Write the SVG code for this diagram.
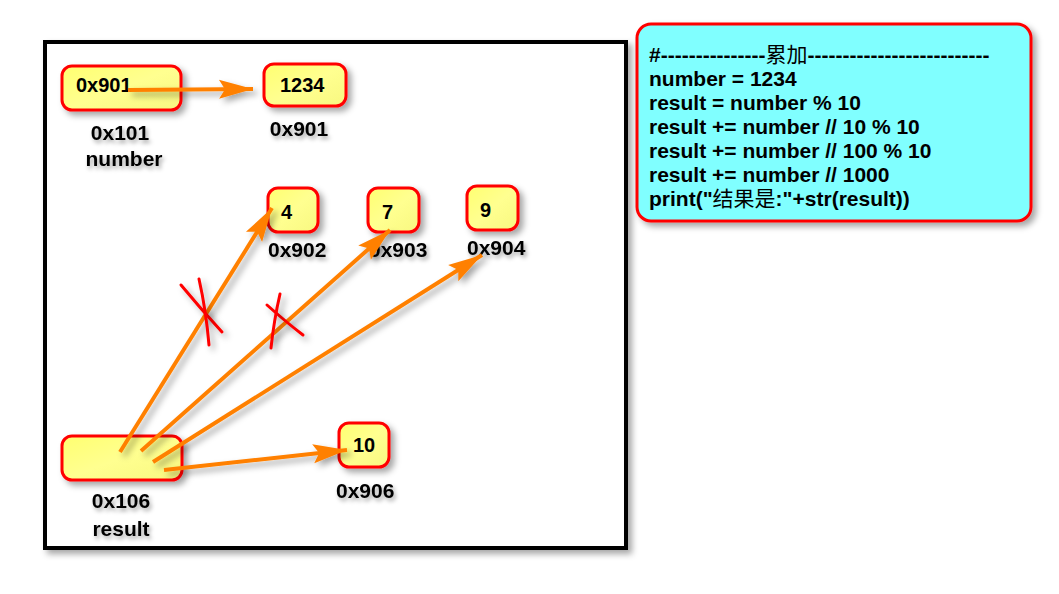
<svg xmlns="http://www.w3.org/2000/svg" width="1059" height="594" viewBox="0 0 1059 594">
<defs>
<filter id="sh" x="-20%" y="-20%" width="150%" height="150%">
<feDropShadow dx="4" dy="4" stdDeviation="3" flood-color="#000" flood-opacity="0.35"/>
</filter>
<filter id="ash" filterUnits="userSpaceOnUse" x="0" y="0" width="1059" height="594">
<feDropShadow dx="4" dy="4" stdDeviation="3" flood-color="#000" flood-opacity="0.35"/>
</filter>
<filter id="tsh" x="-20%" y="-30%" width="150%" height="170%">
<feDropShadow dx="2" dy="3" stdDeviation="2" flood-color="#000" flood-opacity="0.35"/>
</filter>
<linearGradient id="yg" x1="0" y1="0" x2="1" y2="1">
<stop offset="0" stop-color="#ffff70"/>
<stop offset="0.5" stop-color="#ffff90"/>
<stop offset="1" stop-color="#f8f880"/>
</linearGradient>
<marker id="ah" markerUnits="userSpaceOnUse" markerWidth="40" markerHeight="24" viewBox="-36 -12 40 24" refX="0" refY="0" orient="auto">
<path d="M0,0 L-34,-9.5 L-28,0 L-34,9.5 Z" fill="#ff8000"/>
</marker>
</defs>
<style>
.node{fill:url(#yg);stroke:#ff0000;stroke-width:3;filter:url(#sh)}
.t{font-family:"Liberation Sans",Arial,sans-serif;font-weight:bold;fill:#000}
.nt{font-size:20px}
.lb{font-size:21px;filter:url(#tsh)}
.code{font-size:21px}
.cjk{font-family:"Noto Sans CJK SC",sans-serif;font-weight:normal}
.arr{stroke:#ff8000;stroke-width:4;fill:none;marker-end:url(#ah);filter:url(#ash)}
.x{stroke:#ff0000;stroke-width:3;fill:none;stroke-linecap:round;filter:url(#ash)}
</style>
<rect width="1059" height="594" fill="#ffffff"/>
<g id="frame">
<rect x="45" y="42" width="581" height="506" fill="#ffffff" stroke="#000" stroke-width="4" filter="url(#sh)"/>
</g>
<g id="code">
<rect x="637" y="24" width="394" height="197" rx="14" fill="#80ffff" stroke="#ff0000" stroke-width="3" filter="url(#sh)"/>
<text class="t code" x="649" y="62">#---------------<tspan class="cjk">累加</tspan>--------------------------</text>
<text class="t code" x="649" y="86">number = 1234</text>
<text class="t code" x="649" y="110">result = number % 10</text>
<text class="t code" x="649" y="134">result += number // 10 % 10</text>
<text class="t code" x="649" y="158">result += number // 100 % 10</text>
<text class="t code" x="649" y="182">result += number // 1000</text>
<text class="t code" x="649" y="206">print("<tspan class="cjk">结果是</tspan>:"+str(result))</text>
</g>
<g id="number">
<rect class="node" x="62" y="66" width="119" height="44" rx="10"/>
<text class="t nt" x="76" y="92">0x901</text>
<text class="t lb" x="120" y="140" text-anchor="middle">0x101</text>
<text class="t lb" x="124" y="166" text-anchor="middle">number</text>
</g>
<g id="v1234">
<rect class="node" x="264" y="64" width="82" height="42" rx="10"/>
<text class="t nt" x="280" y="92">1234</text>
<text class="t lb" x="299" y="136" text-anchor="middle">0x901</text>
</g>
<g id="v4">
<rect class="node" x="268" y="188" width="50" height="44" rx="10"/>
<text class="t nt" x="281" y="219">4</text>
<text class="t lb" x="268" y="257">0x902</text>
</g>
<g id="v7">
<rect class="node" x="368" y="188" width="51" height="44" rx="10"/>
<text class="t nt" x="382" y="219">7</text>
<text class="t lb" x="369" y="257">0x903</text>
</g>
<g id="v9">
<rect class="node" x="467" y="186" width="51" height="44" rx="10"/>
<text class="t nt" x="480" y="217">9</text>
<text class="t lb" x="467" y="255">0x904</text>
</g>
<g id="v10">
<rect class="node" x="339" y="423" width="50" height="44" rx="10"/>
<text class="t nt" x="353" y="452">10</text>
<text class="t lb" x="336" y="498">0x906</text>
</g>
<g id="result">
<rect class="node" x="62" y="436" width="120" height="44" rx="10"/>
<text class="t lb" x="121" y="508" text-anchor="middle">0x106</text>
<text class="t lb" x="121" y="536" text-anchor="middle">result</text>
</g>
<g id="connectors">
<line class="arr" x1="128" y1="90" x2="253" y2="89"/>
<line class="arr" x1="120" y1="452" x2="272" y2="208"/>
<line class="arr" x1="141" y1="451" x2="390" y2="230"/>
<line class="arr" x1="153" y1="462" x2="482" y2="255"/>
<line class="arr" x1="164" y1="470" x2="347" y2="450"/>
</g>
<g id="crosses">
<path class="x" d="M181,285 Q200,308 222,332"/>
<path class="x" d="M199,279 Q206,310 209,345"/>
<path class="x" d="M267,305 Q286,322 303,335"/>
<path class="x" d="M280,294 Q274,320 271,348"/>
</g>
</svg>
